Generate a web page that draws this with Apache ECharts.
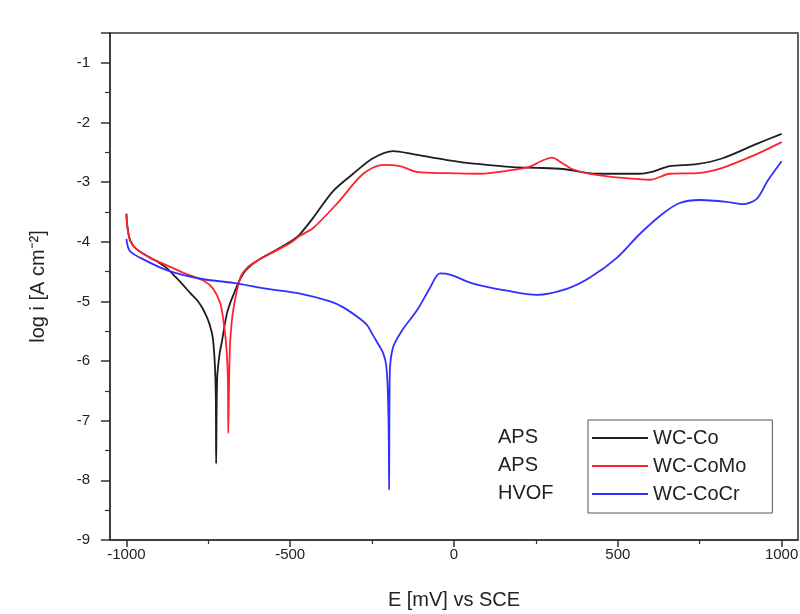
<!DOCTYPE html>
<html>
<head>
<meta charset="utf-8">
<script src="https://cdn.jsdelivr.net/npm/echarts@6/dist/echarts.min.js"></script>
<style>
  html, body { margin: 0; padding: 0; background: #fff; }
  #chart { width: 800px; height: 614px; }
</style>
</head>
<body>
<div id="chart"></div>
<script>
// ---- data (E in mV vs SCE, log i in A cm^-2) ----
const xTickLabels = [-1000, -500, 0, 500, 1000];
const xMinorTicks = [-750, -250, 250, 750];
const yTickLabels = [-9, -8, -7, -6, -5, -4, -3, -2, -1];

const wcCoE = [-1000, -996, -988, -970, -927, -900, -875, -850, -826, -805, -784, -768, -753, -743, -736, -730, -727, -726,
  -723, -716, -708, -693, -674, -643, -601, -540, -500, -470, -430, -369, -308, -247, -186,
  -125, -21, 79, 180, 253, 332, 436, 567, 610, 659, 741, 820, 924, 1000];
const wcCoLog = [-3.53, -3.78, -3.98, -4.12, -4.27, -4.35, -4.45, -4.59, -4.73, -4.86, -4.98, -5.11, -5.28, -5.44, -5.62, -6.05, -6.6, -7.72,
  -6.3, -5.9, -5.66, -5.2, -4.9, -4.53, -4.32, -4.13, -4.0, -3.87, -3.6, -3.15, -2.86, -2.6, -2.48,
  -2.53, -2.63, -2.7, -2.75, -2.76, -2.78, -2.86, -2.86, -2.82, -2.73, -2.7, -2.6, -2.36, -2.19];

const wcCoMoE = [-1000, -996, -988, -970, -927, -875, -826, -765, -735, -713, -701, -694, -690, -689,
  -686, -683, -674, -652, -630, -601, -540, -500, -470, -430, -357, -277, -216, -165, -113,
  -21, 79, 162, 232, 265, 299, 330, 360, 415, 515, 598, 659, 741, 820, 924, 1000];
const wcCoMoLog = [-3.55, -3.8, -3.99, -4.12, -4.27, -4.4, -4.52, -4.65, -4.79, -5.04, -5.44, -5.82, -6.37, -7.21,
  -6.2, -5.66, -5.15, -4.6, -4.43, -4.32, -4.14, -4.02, -3.9, -3.77, -3.36, -2.86, -2.71, -2.73, -2.83,
  -2.85, -2.86, -2.81, -2.74, -2.65, -2.59, -2.68, -2.78, -2.86, -2.93, -2.96, -2.86, -2.85, -2.76, -2.53, -2.33];

const wcCoCrE = [-1000, -990, -957, -875, -774, -674, -570, -470, -378, -338, -287, -265, -247, -232, -216, -207, -202, -199, -198,
  -196, -186, -159, -113, -73, -43, -12, 58, 162, 253, 344, 415, 497, 567, 637, 689, 750, 832, 881,
  924, 957, 1000];
const wcCoCrLog = [-3.95, -4.15, -4.27, -4.48, -4.62, -4.69, -4.79, -4.87, -5.0, -5.1, -5.29, -5.4, -5.57, -5.71, -5.87, -6.07, -6.5, -7.33, -8.16,
  -6.21, -5.77, -5.49, -5.15, -4.77, -4.53, -4.55, -4.7, -4.82, -4.89, -4.79, -4.6, -4.27, -3.87, -3.53, -3.35, -3.3, -3.33, -3.37,
  -3.28, -2.98, -2.65];

const seriesNames = ['WC-Co', 'WC-CoMo', 'WC-CoCr'];
const processNames = ['APS', 'APS', 'HVOF'];
const seriesColors = ['#1e1e1e', '#ff2330', '#2f2fff'];

const pairs = (xs, ys) => xs.map((x, i) => [x, ys[i]]);
const allData = [pairs(wcCoE, wcCoLog), pairs(wcCoMoE, wcCoMoLog), pairs(wcCoCrE, wcCoCrLog)];

const FONT = 'Liberation Sans, Arial, sans-serif';
const TXT = '#222';

const chart = echarts.init(document.getElementById('chart'), null, { renderer: 'canvas' });

const legendRowY = [438, 466, 494];

chart.setOption({
  animation: false,
  backgroundColor: '#fff',
  grid: {
    left: 110, right: 2, top: 33, bottom: 74,
    outerBoundsMode: 'none', containLabel: false,
    show: true, borderColor: '#333', borderWidth: 1.5, backgroundColor: 'transparent'
  },
  xAxis: [
    {
      type: 'value', min: -1050, max: 1050,
      name: 'E [mV] vs SCE', nameLocation: 'middle', nameGap: 50,
      nameTextStyle: { fontFamily: FONT, fontSize: 20, color: TXT },
      axisLine: { show: true, onZero: false, lineStyle: { color: '#333', width: 1.5 } },
      axisTick: { show: true, inside: false, length: 7, customValues: xTickLabels, lineStyle: { color: '#333', width: 1.5 } },
      axisLabel: { show: true, customValues: xTickLabels, margin: 7, fontFamily: FONT, fontSize: 15, color: TXT,
        formatter: v => String(v) },
      splitLine: { show: false }
    },
    {
      type: 'value', min: -1050, max: 1050, position: 'bottom',
      axisLine: { show: false, onZero: false },
      axisTick: { show: true, inside: false, length: 4, customValues: xMinorTicks, lineStyle: { color: '#333', width: 1.2 } },
      axisLabel: { show: false },
      splitLine: { show: false }
    }
  ],
  yAxis: {
    type: 'value', min: -9, max: -0.5, interval: 1,
    name: 'log i [A cm⁻²]', nameLocation: 'middle', nameGap: 62, nameRotate: 90,
    nameTextStyle: { fontFamily: FONT, fontSize: 20, color: TXT },
    axisLine: { show: true, onZero: false, lineStyle: { color: '#333', width: 1.5 } },
    axisTick: { show: true, inside: false, length: 9, lineStyle: { color: '#333', width: 1.5 } },
    minorTick: { show: true, splitNumber: 2, length: 5, lineStyle: { color: '#333', width: 1.2 } },
    axisLabel: { margin: 20, fontFamily: FONT, fontSize: 15, color: TXT, customValues: yTickLabels,
      formatter: v => String(v) },
    splitLine: { show: false },
    minorSplitLine: { show: false }
  },
  legend: {
    orient: 'vertical',
    left: 588, top: 420,
    padding: [8, 26, 9, 4],
    itemGap: 8,
    icon: 'rect',
    itemWidth: 56, itemHeight: 2,
    borderColor: '#555', borderWidth: 1,
    backgroundColor: '#fff',
    textStyle: { fontFamily: FONT, fontSize: 20, color: TXT, lineHeight: 20 },
    data: seriesNames
  },
  graphic: processNames.map((t, i) => ({
    type: 'text', left: 498, top: legendRowY[i] - 11,
    style: { text: t, fontFamily: FONT, fontSize: 20, fill: TXT }
  })),
  series: allData.map((d, i) => ({
    name: seriesNames[i],
    type: 'line',
    data: d,
    symbol: 'none',
    smooth: 0.3,
    lineStyle: { color: seriesColors[i], width: 1.8 },
    itemStyle: { color: seriesColors[i] }
  }))
});
</script>
</body>
</html>
